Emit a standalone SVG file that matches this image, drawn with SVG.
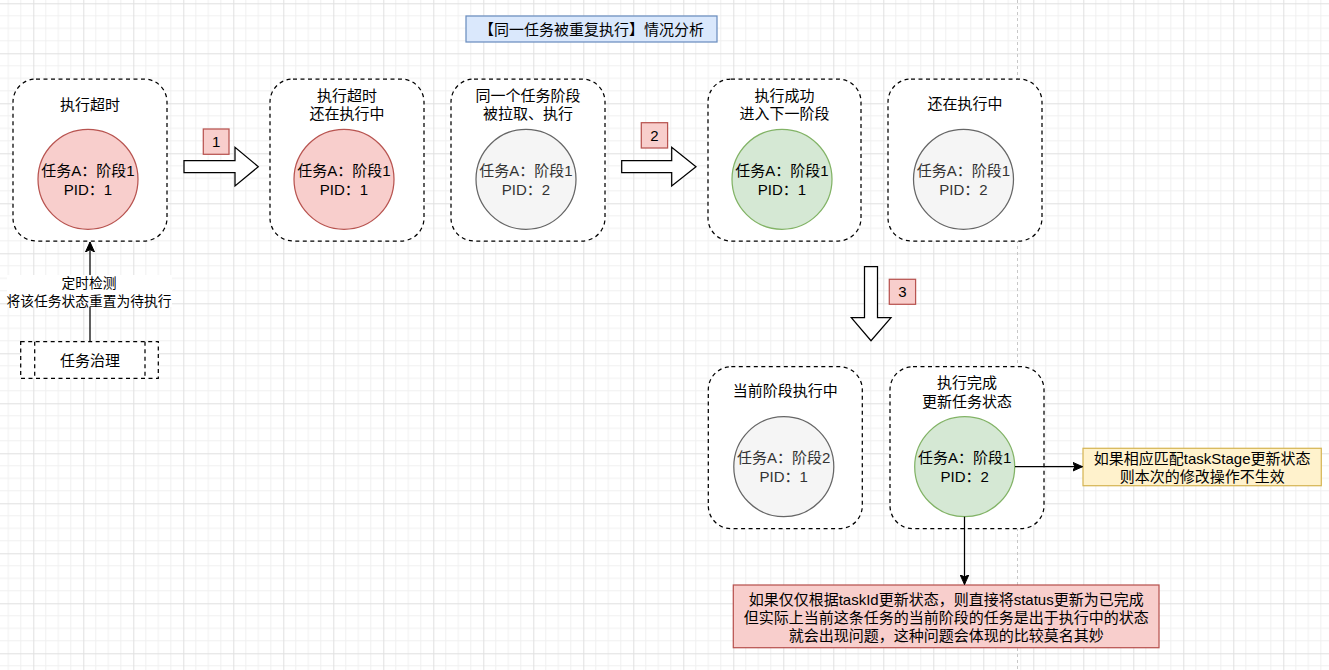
<svg xmlns="http://www.w3.org/2000/svg" width="1329" height="670" viewBox="0 0 1329 670">
<style>
text{font-family:"Liberation Sans","Noto Sans CJK SC",sans-serif;font-size:15px;fill:#000;text-anchor:middle}
.sm{font-size:13.75px}
.grey{fill:#333333}
.box{fill:#fff;stroke:#000;stroke-width:1.25;stroke-dasharray:4 3.5}
.red{fill:#f8cecc;stroke:#b85450;stroke-width:1.25}
.green{fill:#d5e8d4;stroke:#82b366;stroke-width:1.25}
.gc{fill:#f5f5f5;stroke:#666666;stroke-width:1.25}
.blk{fill:#fff;stroke:#000;stroke-width:1.25}
.conn{fill:none;stroke:#000;stroke-width:1.25}
</style>
<defs>
<pattern id="grid" patternUnits="userSpaceOnUse" x="33.3" y="3.3" width="50" height="50">
<path d="M12.5 0V50M25 0V50M37.5 0V50M0 12.5H50M0 25H50M0 37.5H50" stroke="#f0f0f0" stroke-width="1" fill="none"/>
<path d="M0.5 0V50M0 0.5H50" stroke="#e0e0e0" stroke-width="1" fill="none"/>
</pattern>
<marker id="arr" markerUnits="userSpaceOnUse" markerWidth="12" markerHeight="10" refX="10" refY="5" orient="auto" viewBox="0 0 12 10">
<path d="M0,0.5 L10,5 L0,9.5 L2.5,5 Z" fill="#000" stroke="#000" stroke-width="1"/>
</marker>
</defs>
<rect width="1329" height="670" fill="#fff"/>
<rect width="1329" height="670" fill="url(#grid)"/>
<line x1="1017.5" y1="0" x2="1017.5" y2="670" stroke="#c8c8c8" stroke-width="1" stroke-dasharray="3 3"/>

<g id="title">
<rect x="466" y="16" width="251" height="26" fill="#dae8fc" stroke="#6c8ebf" stroke-width="1.25"/>
<text x="591.5" y="34.5">【同一任务被重复执行】情况分析</text>
</g>

<g id="box1">
<rect class="box" x="13" y="79" width="154" height="162" rx="23"/>
<text x="90" y="109.5">执行超时</text>
<circle class="red" cx="88" cy="179.3" r="50"/>
<text x="88" y="175.5">任务A：阶段1</text>
<text x="88" y="194.5">PID：1</text>
</g>

<g id="box2">
<rect class="box" x="270" y="79" width="154" height="162" rx="23"/>
<text x="347" y="101">执行超时</text>
<text x="347" y="119">还在执行中</text>
<circle class="red" cx="344" cy="179.3" r="50"/>
<text x="344" y="175.5">任务A：阶段1</text>
<text x="344" y="194.5">PID：1</text>
</g>

<g id="box3">
<rect class="box" x="451" y="79" width="154" height="162" rx="23"/>
<text x="528" y="101">同一个任务阶段</text>
<text x="528" y="119">被拉取、执行</text>
<circle class="gc" cx="526" cy="179.3" r="50"/>
<text class="grey" x="526" y="175.5">任务A：阶段1</text>
<text class="grey" x="526" y="194.5">PID：2</text>
</g>

<g id="box4">
<rect class="box" x="708" y="79" width="153" height="162" rx="23"/>
<text x="784.5" y="101">执行成功</text>
<text x="784.5" y="119">进入下一阶段</text>
<circle class="green" cx="782" cy="179.3" r="50"/>
<text x="782" y="175.5">任务A：阶段1</text>
<text x="782" y="194.5">PID：1</text>
</g>

<g id="box5">
<rect class="box" x="888" y="79" width="154" height="162" rx="23"/>
<text x="965" y="109">还在执行中</text>
<circle class="gc" cx="963.5" cy="179.3" r="50"/>
<text class="grey" x="963.5" y="175.5">任务A：阶段1</text>
<text class="grey" x="963.5" y="194.5">PID：2</text>
</g>

<g id="box6">
<rect class="box" x="708.3" y="366.7" width="154" height="162" rx="23"/>
<text x="785.3" y="395.5">当前阶段执行中</text>
<circle class="gc" cx="783.8" cy="466.7" r="50"/>
<text class="grey" x="783.8" y="463">任务A：阶段2</text>
<text class="grey" x="783.8" y="482">PID：1</text>
</g>

<g id="box7">
<rect class="box" x="890" y="366.7" width="154" height="162" rx="23"/>
<text x="967" y="388">执行完成</text>
<text x="967" y="406.5">更新任务状态</text>
<circle class="green" cx="964.7" cy="466.7" r="50"/>
<text x="964.7" y="463">任务A：阶段1</text>
<text x="964.7" y="482">PID：2</text>
</g>

<g id="step1">
<polygon class="blk" points="184,160.7 235,160.7 235,147.3 258.3,166.7 235,186 235,172.7 184,172.7"/>
<rect class="red" x="203.3" y="129" width="25.7" height="25.3"/>
<text x="216.2" y="147">1</text>
</g>

<g id="step2">
<polygon class="blk" points="621.7,160.7 671.7,160.7 671.7,147.3 696,166.7 671.7,186 671.7,172.7 621.7,172.7"/>
<rect class="red" x="641.3" y="122.7" width="26.3" height="25.3"/>
<text x="654.5" y="140.7">2</text>
</g>

<g id="step3">
<polygon class="blk" points="864.5,266.7 877.5,266.7 877.5,317.7 891,317.7 871,340.7 851.3,317.7 864.5,317.7"/>
<rect class="red" x="889.3" y="279.3" width="26.3" height="25"/>
<text x="902.5" y="297.3">3</text>
</g>

<g id="governance">
<rect x="20.7" y="341.7" width="137.6" height="36.6" fill="#fff" stroke="#000" stroke-width="1.25" stroke-dasharray="4 3.5"/>
<line x1="34.7" y1="341.7" x2="34.7" y2="378.3" stroke="#000" stroke-width="1.25" stroke-dasharray="4 3.5"/>
<line x1="145" y1="341.7" x2="145" y2="378.3" stroke="#000" stroke-width="1.25" stroke-dasharray="4 3.5"/>
<text x="90" y="365.5">任务治理</text>
</g>

<g id="note-yellow">
<rect x="1083" y="448.3" width="238.3" height="37.4" fill="#fff2cc" stroke="#d6b656" stroke-width="1.25"/>
<text x="1202.2" y="463.5">如果相应匹配taskStage更新状态</text>
<text x="1202.2" y="481.5">则本次的修改操作不生效</text>
</g>

<g id="note-red">
<rect class="red" x="733.3" y="585" width="425.7" height="62.7"/>
<text x="946.2" y="604.5">如果仅仅根据taskId更新状态，则直接将status更新为已完成</text>
<text x="946.2" y="622.5">但实际上当前这条任务的当前阶段的任务是出于执行中的状态</text>
<text x="946.2" y="640.5">就会出现问题，这种问题会体现的比较莫名其妙</text>
</g>

<g id="connectors">
<line class="conn" x1="90" y1="341.7" x2="90" y2="242" marker-end="url(#arr)"/>
<rect x="7" y="275" width="165" height="32" fill="#fff"/>
<text class="sm" x="89" y="287.5">定时检测</text>
<text class="sm" x="89" y="305.5">将该任务状态重置为待执行</text>
<line class="conn" x1="1015" y1="466.7" x2="1082.5" y2="466.7" marker-end="url(#arr)"/>
<line class="conn" x1="964.5" y1="516.7" x2="964.5" y2="584.5" stroke="#333" marker-end="url(#arr)"/>
</g>
</svg>
